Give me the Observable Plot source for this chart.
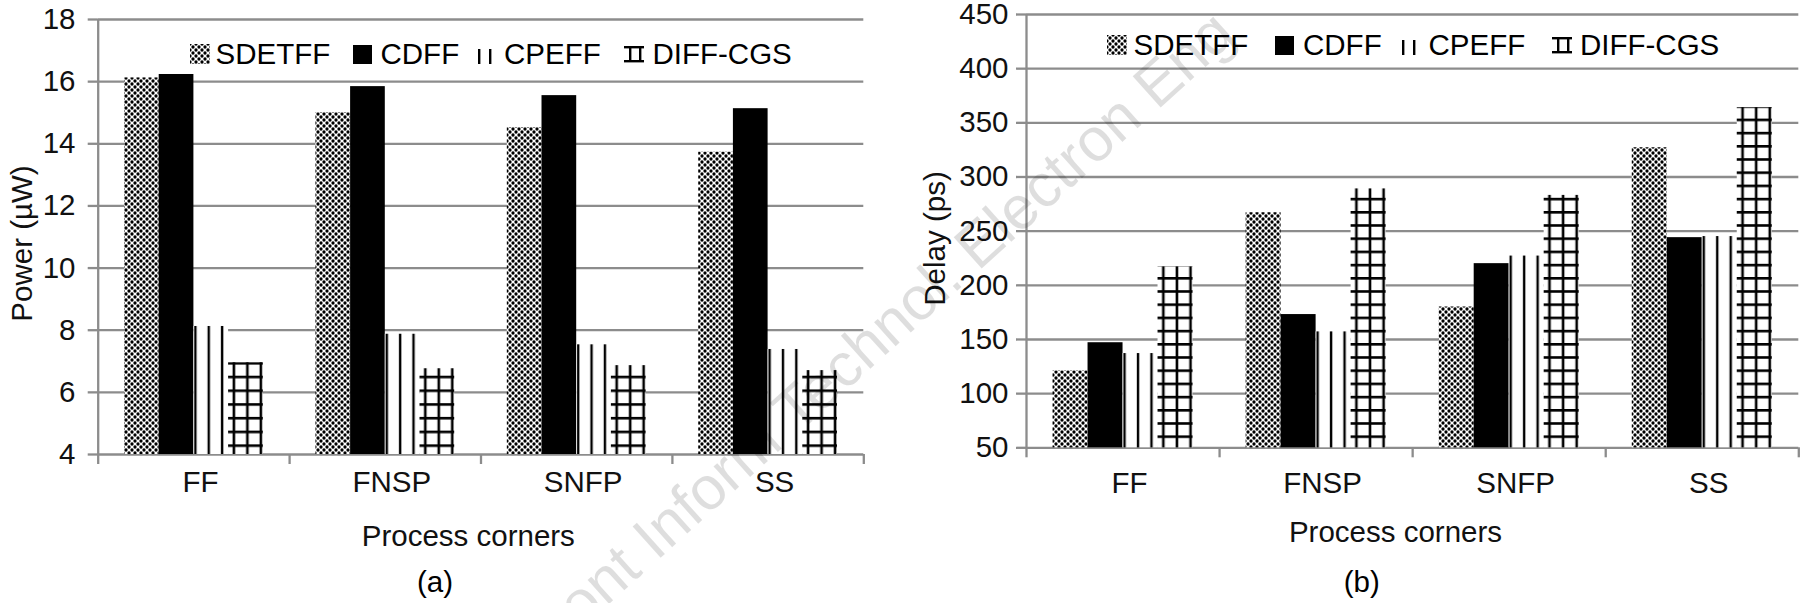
<!DOCTYPE html>
<html>
<head>
<meta charset="utf-8">
<script src="https://cdn.jsdelivr.net/npm/d3@7"></script>
<script src="https://cdn.jsdelivr.net/npm/@observablehq/plot@0.6"></script>
<style>
  html, body { margin: 0; padding: 0; background: #fff; }
  #root { position: relative; width: 1804px; height: 603px; overflow: hidden;
          font-family: "Liberation Sans", Arial, sans-serif; color: #000; }
  .layer { position: absolute; top: 0; }
  .lg { position: absolute; font-size: 29.5px; line-height: 30px; white-space: nowrap; }
  .sw { position: absolute; }
  .cap { position: absolute; font-size: 29.5px; line-height: 30px; white-space: nowrap; transform: translateX(-50%); }
  .wm { position: absolute; top: 0; left: 0; pointer-events: none; }
</style>
</head>
<body>
<svg width="0" height="0" style="position:absolute">
  <defs>
    <pattern id="pSD" patternUnits="userSpaceOnUse" width="6" height="6">
      <rect width="6" height="6" fill="#fff"/>
      <circle cx="0" cy="0" r="1.65" fill="#000"/>
      <circle cx="6" cy="0" r="1.65" fill="#000"/>
      <circle cx="0" cy="6" r="1.65" fill="#000"/>
      <circle cx="6" cy="6" r="1.65" fill="#000"/>
      <circle cx="3" cy="3" r="1.65" fill="#000"/>
    </pattern>
    <pattern id="pCP" patternUnits="objectBoundingBox" width="0.385" height="1">
      <rect width="200" height="2000" fill="#fff"/>
      <rect x="0.8" width="2.4" height="2000" fill="#000"/>
    </pattern>
    <pattern id="pDV" patternUnits="objectBoundingBox" width="0.389" height="1">
      <rect width="200" height="2000" fill="#fff"/>
      <rect x="4.5" width="2.6" height="2000" fill="#000"/>
    </pattern>
    <pattern id="pDHa" patternUnits="userSpaceOnUse" width="20" height="13.73" y="5">
      <rect width="20" height="2.6" fill="#000"/>
    </pattern>
    <pattern id="pDHb" patternUnits="userSpaceOnUse" width="20" height="13.2" y="-0.2">
      <rect width="20" height="2.6" fill="#000"/>
    </pattern>
  </defs>
</svg>
<div id="root"></div>
<script>
// ---------- data ----------
const corners = ["FF", "FNSP", "SNFP", "SS"];
const seriesNames = ["SDETFF", "CDFF", "CPEFF", "DIFF-CGS"];

const powerSDETFF  = [16.12, 15.0, 14.52, 13.73];
const powerCDFF    = [16.23, 15.84, 15.55, 15.13];
const powerCPEFF   = [8.12, 7.87, 7.53, 7.38];
const powerDIFFCGS = [6.95, 6.76, 6.86, 6.70];

const delaySDETFF  = [121, 267, 180, 327];
const delayCDFF    = [147, 173, 220, 244];
const delayCPEFF   = [137, 157, 227, 245];
const delayDIFFCGS = [217, 289, 283, 364];

const powerTicks = [4, 6, 8, 10, 12, 14, 16, 18];
const delayTicks = [50, 100, 150, 200, 250, 300, 350, 400, 450];

const powerLabel = "Power (µW)";
const delayLabel = "Delay (ps)";
const xLabel = "Process corners";
const captions = ["(a)", "(b)"];
const watermark = "Front Inform Technol. Electron Eng";

// ---------- style ----------
const GRID = "#8c8c8c";
const FONT = 29.5;
const FAMILY = '"Liberation Sans", Arial, sans-serif';
const GI = 0.1375;   // group inset inside a category band
const BW = 0.18125;  // bar width as fraction of the band
const FILLS = {"SDETFF": "url(#pSD)", "CDFF": "#000", "CPEFF": "url(#pCP)", "DIFF-CGS": "url(#pDV)"};

const root = document.getElementById("root");

function chart(o) {
  const rows = [];
  seriesNames.forEach((s, si) => o.values[si].forEach((v, ci) =>
    rows.push({corner: corners[ci], series: s, ci, si, value: v})));
  const y0 = o.ticks[0];
  const x1 = d => d.ci + GI + d.si * BW;
  const x2 = d => d.ci + GI + (d.si + 1) * BW;
  const marks = [
    Plot.ruleY(o.ticks, {stroke: GRID, strokeWidth: 2.3}),
    ...seriesNames.map(s => Plot.rect(rows.filter(r => r.series === s),
      {x1, x2, y1: () => y0, y2: "value", fill: FILLS[s]})),
    Plot.rect(rows.filter(r => r.series === "DIFF-CGS"),
      {x1, x2, y1: () => y0, y2: "value", fill: `url(#${o.dh})`}),
    Plot.ruleX([0], {stroke: GRID, strokeWidth: 2.3}),
    Plot.axisY({ticks: o.ticks, tickSize: 10, tickPadding: o.tickPad, stroke: GRID, strokeWidth: 2.3,
      fill: "#111", fontSize: FONT, label: null, tickFormat: d => String(d)}),
    Plot.axisX({ticks: [0, 1, 2, 3, 4], tickSize: 10, stroke: GRID, strokeWidth: 2.3,
      tickFormat: () => "", label: null}),
    Plot.axisX({ticks: [0.5, 1.5, 2.5, 3.5], tickSize: 0, tickPadding: o.catPad, dx: 6.5,
      tickFormat: d => corners[Math.floor(d)], fill: "#111", fontSize: FONT, label: null}),
    Plot.text([xLabel], {frameAnchor: "bottom", textAnchor: "middle", lineAnchor: "bottom",
      dx: o.xlDx, dy: o.xlDy, fontSize: FONT, fill: "#111"}),
    Plot.text([o.yLabel], {frameAnchor: "left", rotate: -90, textAnchor: "middle", lineAnchor: "bottom",
      dx: o.ylDx, dy: o.ylDy, fontSize: FONT, fill: "#111"})
  ];
  const svg = Plot.plot({
    width: o.width, height: 603,
    marginLeft: o.ml, marginRight: o.mr, marginTop: o.mt, marginBottom: o.mb,
    x: {domain: [0, 4]},
    y: {domain: [o.ticks[0], o.ticks[o.ticks.length - 1]]},
    style: {background: "transparent", overflow: "visible", fontFamily: FAMILY, fontSize: FONT + "px"},
    marks
  });
  const wrap = document.createElement("div");
  wrap.className = "layer";
  wrap.style.left = o.left + "px";
  wrap.appendChild(svg);
  root.appendChild(wrap);
}

chart({values: [powerSDETFF, powerCDFF, powerCPEFF, powerDIFFCGS], ticks: powerTicks, yLabel: powerLabel,
  left: 0, width: 900, ml: 97.7, mr: 36.7, mt: 19, mb: 149, tickPad: 12.7, catPad: 16.8,
  xlDx: -12.7, xlDy: 91, ylDx: -66, ylDy: 6.5, dh: "pDHa"});
chart({values: [delaySDETFF, delayCDFF, delayCPEFF, delayDIFFCGS], ticks: delayTicks, yLabel: delayLabel,
  left: 900, width: 904, ml: 126, mr: 5.7, mt: 14, mb: 155.7, tickPad: 8, catPad: 24.5,
  xlDx: -17.2, xlDy: 94.4, ylDx: -82, ylDy: 7.35, dh: "pDHb"});

// ---------- legends ----------
function swatch(name) {
  const s = d3.create("svg").attr("width", 20).attr("height", 20);
  if (name === "SDETFF") s.append("rect").attr("width", 20).attr("height", 20).attr("fill", "url(#pSD)");
  else if (name === "CDFF") s.append("rect").attr("y", 1).attr("width", 19).attr("height", 19).attr("fill", "#000");
  else if (name === "CPEFF") {
    s.append("rect").attr("x", 1).attr("y", 5).attr("width", 2.4).attr("height", 15).attr("fill", "#000");
    s.append("rect").attr("x", 12).attr("y", 5).attr("width", 2.4).attr("height", 15).attr("fill", "#000");
  } else {
    s.append("rect").attr("x", 0).attr("y", 2).attr("width", 20).attr("height", 2.4).attr("fill", "#000");
    s.append("rect").attr("x", 0).attr("y", 16).attr("width", 20).attr("height", 2.4).attr("fill", "#000");
    s.append("rect").attr("x", 5).attr("y", 2).attr("width", 2.4).attr("height", 16).attr("fill", "#000");
    s.append("rect").attr("x", 15).attr("y", 2).attr("width", 2.4).attr("height", 16).attr("fill", "#000");
  }
  return s.node();
}
function legend(xs, txs, baseline) {
  seriesNames.forEach((name, i) => {
    const sw = document.createElement("div");
    sw.className = "sw";
    sw.style.left = xs[i] + "px";
    sw.style.top = (baseline - 20) + "px";
    sw.appendChild(swatch(name));
    root.appendChild(sw);
    const t = document.createElement("div");
    t.className = "lg";
    t.style.left = txs[i] + "px";
    t.style.top = (baseline - 25.2) + "px";
    t.textContent = name;
    root.appendChild(t);
  });
}
legend([190, 352.7, 477, 624], [215.5, 380.5, 504, 652.5], 64);
legend([1106.7, 1275, 1400.5, 1551.7], [1133.5, 1303, 1428.5, 1580], 55);

// ---------- captions ----------
[[captions[0], 435], [captions[1], 1361.7]].forEach(([c, x]) => {
  const d = document.createElement("div");
  d.className = "cap";
  d.style.left = x + "px";
  d.style.top = (591.7 - 25.2) + "px";
  d.textContent = c;
  root.appendChild(d);
});

// ---------- watermark (translucent, on top) ----------
const wm = d3.select(root).append("svg")
  .attr("class", "wm").attr("width", 1804).attr("height", 603);
wm.append("text")
  .attr("x", 538).attr("y", 668)
  .attr("transform", "rotate(-42 538 668)")
  .attr("font-size", 61).attr("font-family", FAMILY)
  .attr("fill", "#000").attr("fill-opacity", 0.13)
  .text(watermark);
</script>
</body>
</html>
